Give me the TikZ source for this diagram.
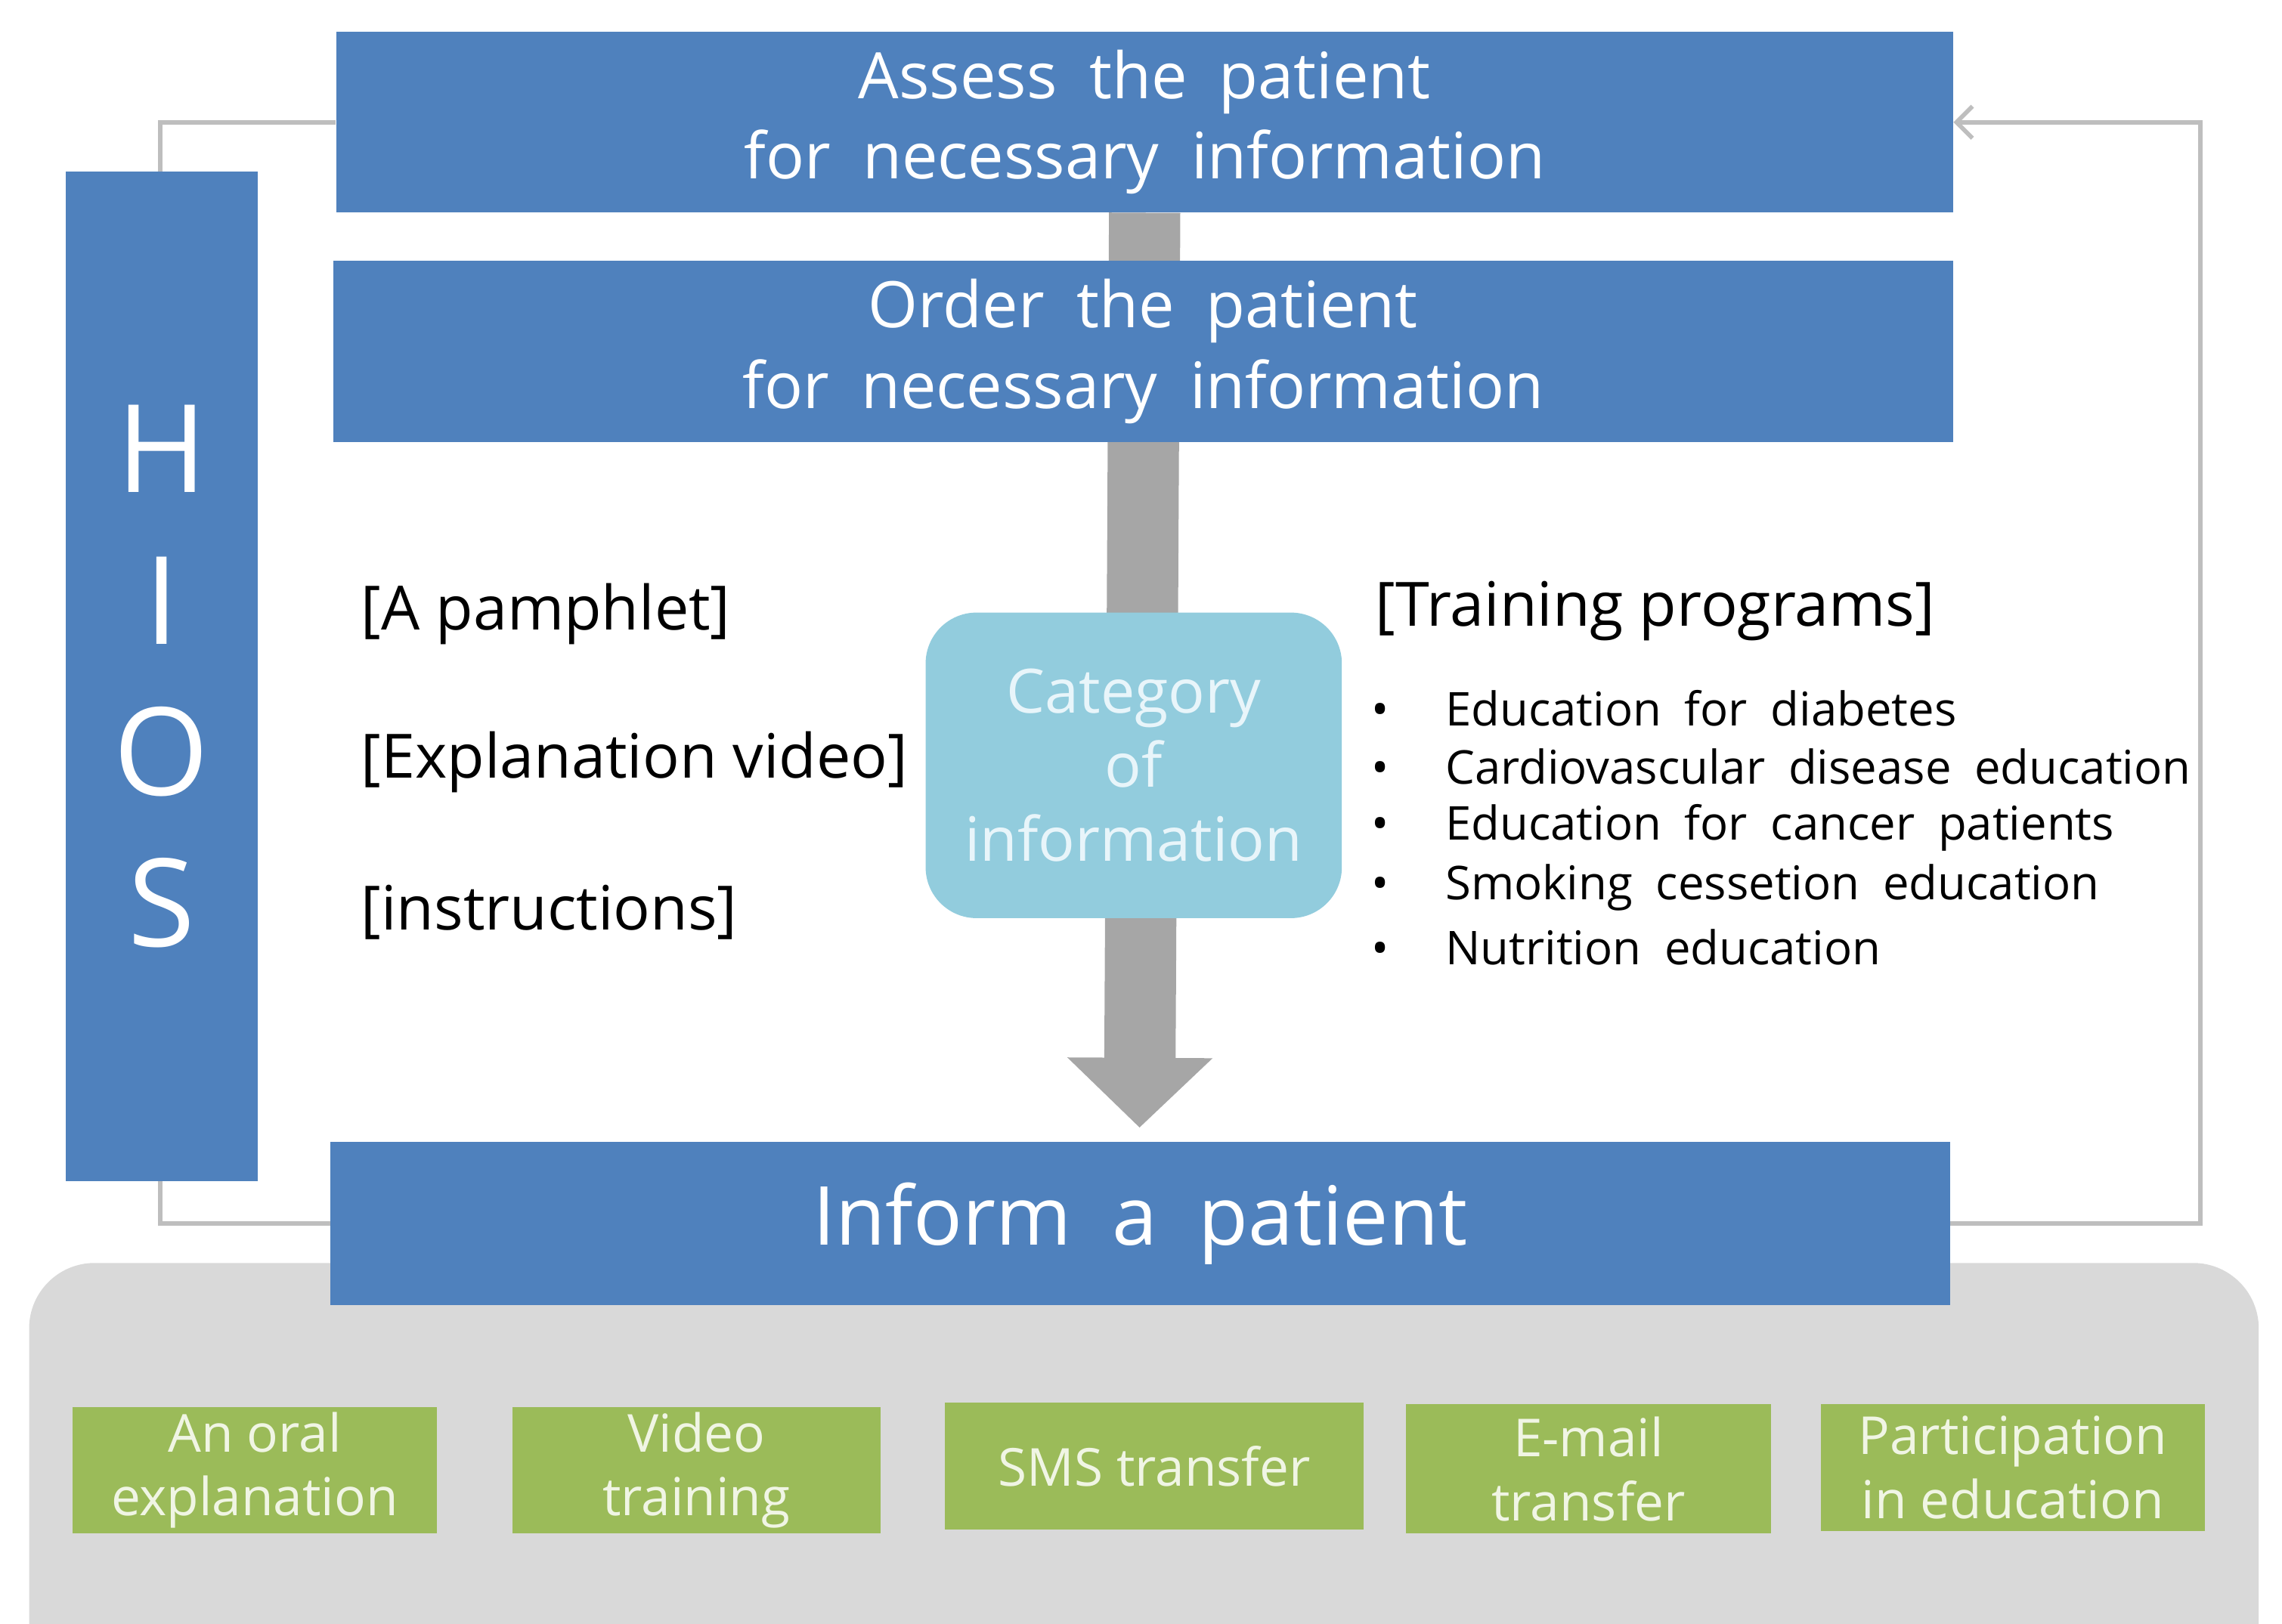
\documentclass[tikz,border=0pt]{standalone}
\usepackage{fontspec}
\setmainfont{Open Sans}
\usetikzlibrary{arrows.meta,backgrounds}

\definecolor{boxblue}{RGB}{79,129,189}
\definecolor{boxgreen}{RGB}{155,187,89}
\definecolor{catblue}{RGB}{146,204,221}
\definecolor{bandgray}{RGB}{217,217,217}
\definecolor{shaftgray}{RGB}{166,166,166}
\definecolor{loopgray}{RGB}{190,190,190}
\newcommand{\widesp}{\spaceskip=.5em plus .1em}

\begin{document}
\begin{tikzpicture}[x=1pt,y=-1pt,
  bluebox/.style={fill=boxblue,text=white,inner sep=0pt,align=center},
  greenbox/.style={fill=boxgreen,text={rgb,255:red,240;green,245;blue,228},inner sep=0pt,
    align=center,minimum height=87pt,font=\fontsize{36}{44}\selectfont},
  sidetext/.style={anchor=west,inner sep=0pt,font=\fontsize{42}{48}\selectfont},
  itemtext/.style={anchor=west,inner sep=0pt,font=\fontsize{32}{36}\selectfont\widesp},
  loopline/.style={draw=loopgray,line width=3pt}]
  \useasboundingbox (0,0) rectangle (1568,1116);
  \clip (0,0) rectangle (1568,1116);

  \path (786.5,84) node[bluebox,minimum width=1111pt,minimum height=124pt,
    font=\fontsize{44}{55}\selectfont\widesp] (assess) {Assess the patient\\for necessary information};
  \path (785.5,241.5) node[bluebox,minimum width=1113pt,minimum height=125pt,
    font=\fontsize{44}{56}\selectfont\widesp] (order) {Order the patient\\for necessary information};
  \path (111,465) node[bluebox,minimum width=132pt,minimum height=694pt,
    font=\fontsize{84}{104}\selectfont] (hios) {H\\I\\O\\S};
  \path (783.5,841) node[bluebox,minimum width=1113pt,minimum height=112pt,
    font=\fontsize{56}{60}\selectfont\widesp] (inform) {Inform a patient};
  \path (779,526) node[fill=catblue,rounded corners=35pt,minimum width=286pt,minimum height=210pt,
    inner sep=0pt,align=center,text={rgb,255:red,232;green,245;blue,250},
    font=\fontsize{42}{51}\selectfont] (category) {Category\\of\\information};
  \coordinate (tip) at (783,775);

  % printed material
  \path (248,422) node[sidetext] (pamphlet) {[A pamphlet]};
  \path (248,524) node[sidetext] (video) {[Explanation video]};
  \path (248,627) node[sidetext] (instr) {[instructions]};

  % training programs
  \path (945,420) node[sidetext] (training) {[Training programs]};
  \path (942,487) node[itemtext] (item1) {\makebox[51pt][l]{•}Education for diabetes};
  \path (942,527) node[itemtext] (item2) {\makebox[51pt][l]{•}Cardiovascular disease education};
  \path (942,569) node[itemtext] (item3) {\makebox[51pt][l]{•}Education for cancer patients};
  \path (942,610) node[itemtext] (item4) {\makebox[51pt][l]{•}Smoking cessetion education};
  \path (942,651) node[itemtext] (item5) {\makebox[51pt][l]{•}Nutrition education};

  % channels
  \path (175,1010.5) node[greenbox,minimum width=250pt] (oral) {An oral\\explanation};
  \path (478.5,1010.5) node[greenbox,minimum width=253pt] (vidtrain) {Video\\training};
  \path (793,1007.5) node[greenbox,minimum width=288pt] (sms) {SMS transfer};
  \path (1091.5,1009.5) node[greenbox,minimum width=251pt,minimum height=89pt] (email) {E-mail\\transfer};
  \path (1383,1008.5) node[greenbox,minimum width=264pt] (partic) {Participation\\in education};

  \begin{scope}[on background layer]
    \path[fill=bandgray,rounded corners=45pt] (20,868) rectangle (1552,1170);
    \coordinate (loopL) at (110,84);
    \coordinate (loopR) at (1512,84);
    \draw[loopline] (inform.west) -| (loopL) -- (assess.west);
    \draw[loopline,-{Straight Barb[length=11pt,width=22pt]}] (inform.east) -| (loopR) -- (assess.east);
    \draw[shaftgray,line width=49pt,-{Triangle[length=48pt,width=97pt]}] (assess.south) -- (tip);
  \end{scope}
\end{tikzpicture}
\end{document}
